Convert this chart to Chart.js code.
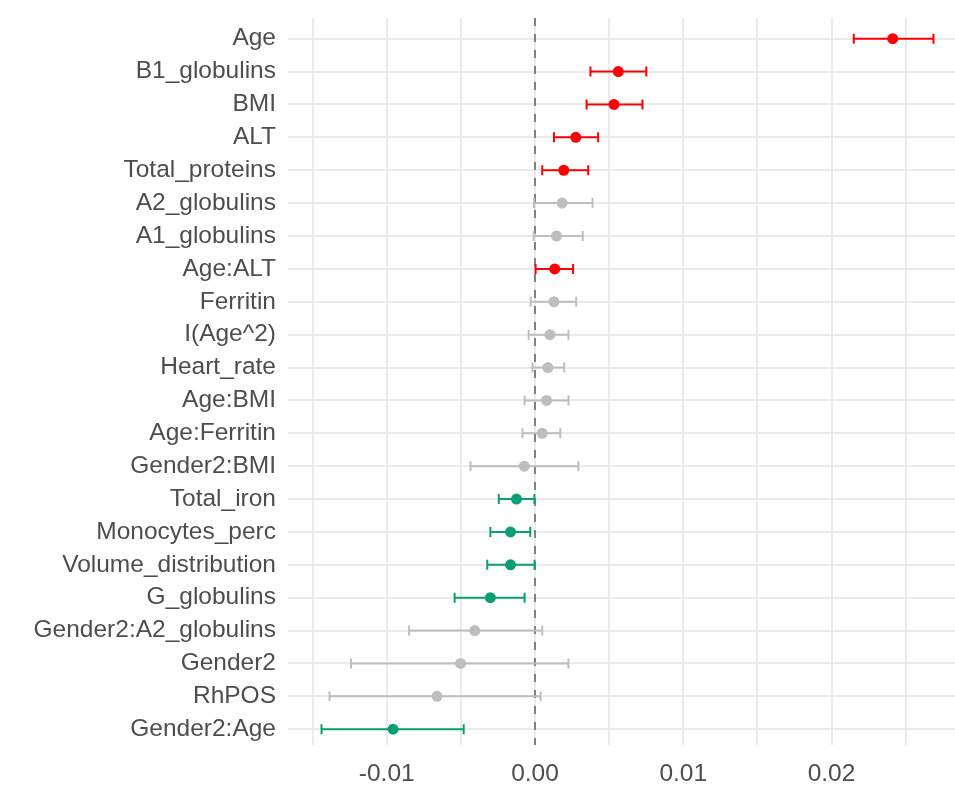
<!DOCTYPE html>
<html>
<head>
<meta charset="utf-8">
<script src="https://cdn.jsdelivr.net/npm/chart.js@4.4.1/dist/chart.umd.min.js"></script>
<style>
  html, body { margin: 0; padding: 0; background: #ffffff; overflow: hidden; }
  canvas { display: block; }
</style>
</head>
<body>
<canvas id="forest" width="955" height="790" style="width:955px;height:790px"></canvas>
<script>
// Model terms, top to bottom
const terms = [
  "Age", "B1_globulins", "BMI", "ALT", "Total_proteins", "A2_globulins",
  "A1_globulins", "Age:ALT", "Ferritin", "I(Age^2)", "Heart_rate", "Age:BMI",
  "Age:Ferritin", "Gender2:BMI", "Total_iron", "Monocytes_perc",
  "Volume_distribution", "G_globulins", "Gender2:A2_globulins", "Gender2",
  "RhPOS", "Gender2:Age"
];

// Coefficient estimates
const estimates = [
  0.02413, 0.00562, 0.00533, 0.00275, 0.00194, 0.00183,
  0.00145, 0.00133, 0.00128, 0.00101, 0.00087, 0.00078,
  0.00049, -0.00072, -0.00125, -0.00165,
  -0.00165, -0.00301, -0.00406, -0.00502,
  -0.00661, -0.00957
];

// Lower confidence limits
const lowerCI = [
  0.02150, 0.00374, 0.00348, 0.00128, 0.00049, -0.00006,
  -0.00009, 0.00004, -0.00029, -0.00043, -0.00017, -0.00070,
  -0.00084, -0.00435, -0.00244, -0.00301,
  -0.00322, -0.00542, -0.00849, -0.01241,
  -0.01386, -0.01440
];

// Upper confidence limits
const upperCI = [
  0.02688, 0.00751, 0.00725, 0.00426, 0.00359, 0.00388,
  0.00322, 0.00257, 0.00278, 0.00226, 0.00197, 0.00226,
  0.00171, 0.00293, -0.00004, -0.00032,
  -0.00003, -0.00070, 0.00049, 0.00226,
  0.00038, -0.00481
];

// X axis: grid positions and the labelled values
const xGridValues = [-0.015, -0.01, -0.005, 0, 0.005, 0.01, 0.015, 0.02, 0.025];
const xTickValues = [-0.01, 0, 0.01, 0.02];
const xTickLabels = ["-0.01", "0.00", "0.01", "0.02"];

const referenceValue = 0;

const COLOR_POS = "#FF0000";
const COLOR_NEG = "#0A9E72";
const COLOR_NS = "#BEBEBE";

function termColor(i) {
  if (lowerCI[i] > 0) return COLOR_POS;
  if (upperCI[i] < 0) return COLOR_NEG;
  return COLOR_NS;
}

const colors = terms.map((_, i) => termColor(i));
const points = terms.map((_, i) => ({ x: estimates[i], y: i }));

const TEXT = "#4D4D4D";
const FONT = "'Liberation Sans', Arial, sans-serif";

// Draws the dashed reference line and horizontal confidence intervals
const intervalPlugin = {
  id: "intervals",
  beforeDatasetsDraw(chart) {
    const { ctx, chartArea, scales } = chart;
    const xs = scales.x, ys = scales.y;
    ctx.save();

    const x0 = xs.getPixelForValue(referenceValue);
    ctx.strokeStyle = "rgba(110,110,110,0.85)";
    ctx.lineWidth = 2;
    ctx.setLineDash([8, 8]);
    ctx.beginPath();
    ctx.moveTo(x0, chartArea.top);
    ctx.lineTo(x0, chartArea.bottom);
    ctx.stroke();
    ctx.setLineDash([]);

    const cap = 5;
    terms.forEach((_, i) => {
      const y = ys.getPixelForValue(i);
      const a = xs.getPixelForValue(lowerCI[i]);
      const b = xs.getPixelForValue(upperCI[i]);
      ctx.strokeStyle = colors[i];
      ctx.lineWidth = 2;
      ctx.beginPath();
      ctx.moveTo(a, y); ctx.lineTo(b, y);
      ctx.moveTo(a, y - cap); ctx.lineTo(a, y + cap);
      ctx.moveTo(b, y - cap); ctx.lineTo(b, y + cap);
      ctx.stroke();
    });
    ctx.restore();
  }
};

// Keep the plot panel edges fixed: no extra room for edge labels
function noEdgePadding(scale) {
  scale.paddingTop = 0;
  scale.paddingBottom = 0;
  scale.paddingLeft = 0;
  scale.paddingRight = 0;
}

new Chart(document.getElementById("forest"), {
  type: "scatter",
  data: {
    datasets: [{
      data: points,
      pointBackgroundColor: colors,
      pointBorderColor: colors,
      pointRadius: 5.5,
      pointHoverRadius: 5.5,
      pointBorderWidth: 0
    }]
  },
  options: {
    responsive: false,
    maintainAspectRatio: false,
    devicePixelRatio: 1,
    animation: false,
    events: [],
    layout: { autoPadding: false, padding: { top: 18, right: 0, bottom: 0, left: 0 } },
    plugins: {
      legend: { display: false },
      tooltip: { enabled: false }
    },
    scales: {
      x: {
        type: "linear",
        position: "bottom",
        min: -0.01666,
        max: 0.02833,
        afterBuildTicks(scale) {
          scale.ticks = xGridValues.map(v => ({ value: v }));
        },
        afterFit(scale) { scale.height = 45; noEdgePadding(scale); },
        border: { display: false },
        grid: { color: "#EBEBEB", lineWidth: 2, drawTicks: false },
        ticks: {
          autoSkip: false,
          maxRotation: 0,
          padding: 15,
          color: TEXT,
          font: { family: FONT, size: 24.5 },
          callback(value) {
            const k = xTickValues.findIndex(t => Math.abs(t - value) < 1e-9);
            return k >= 0 ? xTickLabels[k] : "";
          }
        }
      },
      y: {
        type: "linear",
        reverse: true,
        min: -0.63,
        max: 21.48,
        afterBuildTicks(scale) {
          scale.ticks = terms.map((_, i) => ({ value: i }));
        },
        afterFit(scale) { scale.width = 288; noEdgePadding(scale); },
        border: { display: false },
        grid: { color: "#EBEBEB", lineWidth: 2, drawTicks: false },
        ticks: {
          autoSkip: false,
          padding: 12,
          color: TEXT,
          font: { family: FONT, size: 24.5 },
          callback(value) { return terms[value]; }
        }
      }
    }
  },
  plugins: [intervalPlugin]
});
</script>
</body>
</html>
